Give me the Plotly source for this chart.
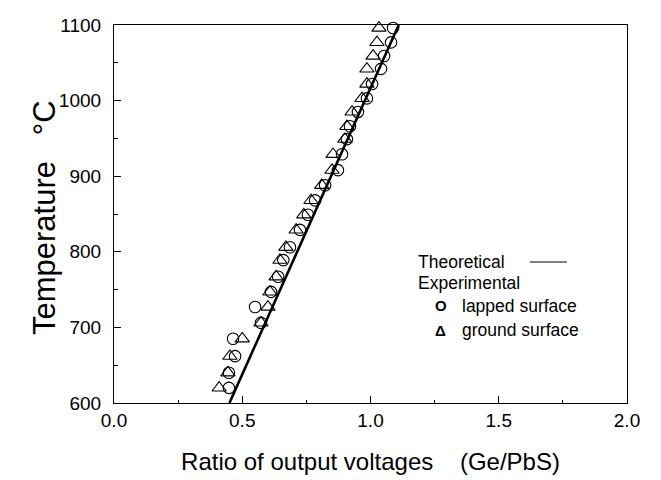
import plotly.graph_objects as go

# Experimental data: lapped surface (circles)
lapped_temp = [620, 640, 662, 685, 706, 727, 747, 767, 789, 806, 829, 849, 868,
               888, 908, 929, 949, 966, 985, 1003, 1022, 1042, 1059, 1077, 1096]
lapped_ratio = [0.448, 0.448, 0.472, 0.464, 0.573, 0.550, 0.612, 0.640, 0.660,
                0.686, 0.725, 0.756, 0.784, 0.823, 0.873, 0.889, 0.908, 0.920,
                0.951, 0.986, 1.006, 1.041, 1.053, 1.080, 1.088]

# Experimental data: ground surface (triangles)
ground_temp = [620, 640, 662, 685, 706, 727, 747, 767, 789, 806, 829, 849, 868,
               888, 908, 929, 949, 966, 985, 1003, 1022, 1042, 1059, 1077, 1096]
ground_ratio = [0.410, 0.444, 0.452, 0.500, 0.573, 0.600, 0.608, 0.632, 0.647,
                0.670, 0.710, 0.740, 0.768, 0.810, 0.850, 0.854, 0.900, 0.908,
                0.928, 0.967, 0.986, 0.986, 1.010, 1.025, 1.033]

# Theoretical line
theory_ratio = [0.45, 1.11]
theory_temp = [600, 1100]

x_ticks = [0.0, 0.5, 1.0, 1.5, 2.0]
y_ticks = [600, 700, 800, 900, 1000, 1100]

FONT = "Liberation Sans, Arial, Helvetica, sans-serif"

fig = go.Figure()
fig.add_trace(go.Scatter(x=theory_ratio, y=theory_temp, mode="lines",
                         line=dict(color="black", width=2.6), showlegend=False,
                         cliponaxis=True))
fig.add_trace(go.Scatter(x=lapped_ratio, y=lapped_temp, mode="markers",
                         marker=dict(symbol="circle-open", size=11.5, color="black",
                                     line=dict(width=1.1, color="black")),
                         showlegend=False, cliponaxis=False))
fig.add_trace(go.Scatter(x=ground_ratio, y=ground_temp, mode="markers",
                         marker=dict(symbol="triangle-up-open", size=12.5, color="black",
                                     line=dict(width=1.1, color="black")),
                         showlegend=False, cliponaxis=False))

axis_common = dict(showline=True, linecolor="black", linewidth=1.2, mirror=True,
                   ticks="inside", ticklen=7, tickwidth=1, tickcolor="black",
                   showgrid=False, zeroline=False, automargin=False,
                   tickfont=dict(family=FONT, size=19, color="black"))

fig.update_xaxes(range=[0, 2], tickvals=x_ticks, ticktext=[f"{v:.1f}" for v in x_ticks],
                 minor=dict(dtick=0.25, ticks="inside", ticklen=3, tickcolor="black", showgrid=False),
                 title=dict(text="Ratio of output voltages\u00a0\u00a0\u00a0 (Ge/PbS)",
                            font=dict(family=FONT, size=24, color="black"), standoff=23),
                 **axis_common)
fig.update_yaxes(range=[600, 1100], tickvals=y_ticks, ticktext=[str(v) for v in y_ticks],
                 ticklabelstandoff=8,
                 minor=dict(dtick=50, ticks="inside", ticklen=4, tickcolor="black", showgrid=False),
                 **axis_common)

# y-axis title placed as a rotated annotation
fig.add_annotation(xref="paper", yref="paper", x=-0.134, y=0.49,
                   text="Temperature\u00a0\u00a0\u00a0°C", textangle=-90, showarrow=False,
                   xanchor="center", yanchor="middle",
                   font=dict(family=FONT, size=31, color="black"))

lx = 0.588  # legend text left (paper)
ann_font = dict(family=FONT, size=17.5, color="black")
fig.add_annotation(xref="paper", yref="paper", x=lx, y=0.373, text="Theoretical",
                   showarrow=False, xanchor="left", yanchor="middle", font=ann_font)
fig.add_shape(type="line", xref="paper", yref="paper", x0=0.811, x1=0.883, y0=0.373, y1=0.373,
              line=dict(color="black", width=1))
fig.add_annotation(xref="paper", yref="paper", x=lx, y=0.317, text="Experimental",
                   showarrow=False, xanchor="left", yanchor="middle", font=ann_font)
fig.add_annotation(xref="paper", yref="paper", x=0.637, y=0.257, text="<b>O</b>",
                   showarrow=False, xanchor="center", yanchor="middle",
                   font=dict(family=FONT, size=15, color="black"))
fig.add_annotation(xref="paper", yref="paper", x=0.674, y=0.257, text="lapped surface",
                   showarrow=False, xanchor="left", yanchor="middle", font=ann_font)
fig.add_annotation(xref="paper", yref="paper", x=0.637, y=0.193, text="<b>\u0394</b>",
                   showarrow=False, xanchor="center", yanchor="middle",
                   font=dict(family=FONT, size=15, color="black"))
fig.add_annotation(xref="paper", yref="paper", x=0.674, y=0.193, text="ground surface",
                   showarrow=False, xanchor="left", yanchor="middle", font=ann_font)

fig.update_layout(width=661, height=480, margin=dict(l=106, r=42, t=17, b=85),
                  paper_bgcolor="white", plot_bgcolor="white",
                  font=dict(family=FONT, color="black"))

fig.write_html("out.html")
